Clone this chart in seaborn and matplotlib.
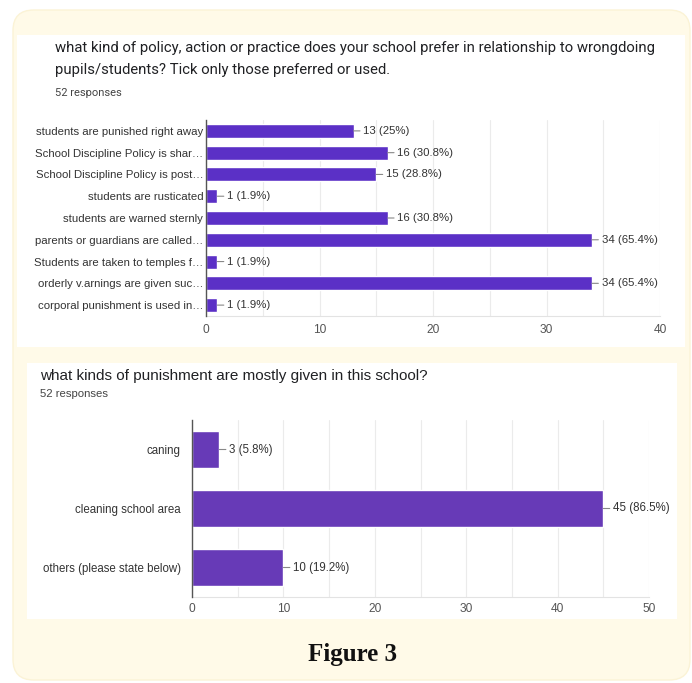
import matplotlib
matplotlib.use("Agg")
import matplotlib.pyplot as plt
import seaborn as sns
import pandas as pd
from matplotlib.patches import FancyBboxPatch, Rectangle
from matplotlib.ticker import MultipleLocator

# ---- data ----
q1_title = ("what kind of policy, action or practice does your school prefer in relationship to wrongdoing\n"
            "pupils/students? Tick only those preferred or used.")
q1_labels = ["students are punished right away",
             "School Discipline Policy is shar\u2026",
             "School Discipline Policy is post\u2026",
             "students are rusticated",
             "students are warned sternly",
             "parents or guardians are called\u2026",
             "Students are taken to temples f\u2026",
             "orderly v.arnings are given suc\u2026",
             "corporal punishment is used in\u2026"]
q1_counts = [13, 16, 15, 1, 16, 34, 1, 34, 1]
q1_pcts = ["25%", "30.8%", "28.8%", "1.9%", "30.8%", "65.4%", "1.9%", "65.4%", "1.9%"]
q1_ticks = [0, 10, 20, 30, 40]

q2_title = "what kinds of punishment are mostly given in this school?"
q2_labels = ["caning", "cleaning school area", "others (please state below)"]
q2_counts = [3, 45, 10]
q2_pcts = ["5.8%", "86.5%", "19.2%"]
q2_ticks = [0, 10, 20, 30, 40, 50]
responses = "52 responses"
caption = "Figure 3"

sns.set_style("white")
plt.rcParams["font.family"] = ["Liberation Sans", "DejaVu Sans"]

W, H = 692, 683
fig = plt.figure(figsize=(W / 100, H / 100), dpi=100)
fig.patch.set_facecolor("white")

def fx(x): return x / W
def fy(y): return 1 - y / H

# backgrounds
cream = "#FFFAE8"
fig.patches.append(FancyBboxPatch((fx(13), fy(680)), fx(677), 670 / H,
                                  boxstyle="round,pad=0,rounding_size=0.03",
                                  transform=fig.transFigure, facecolor=cream,
                                  edgecolor="#FBF3D6", lw=1, zorder=0))
fig.patches.append(Rectangle((fx(17), fy(347)), fx(668), (347 - 35) / H,
                             transform=fig.transFigure, facecolor="white",
                             edgecolor="none", zorder=1))
fig.patches.append(Rectangle((fx(27), fy(619)), fx(650), (619 - 363) / H,
                             transform=fig.transFigure, facecolor="white",
                             edgecolor="none", zorder=1))

def draw(ax, labels, counts, pcts, ticks, color, width, lsize, tsize, minor,
         ypad, xpad):
    df = pd.DataFrame({"label": labels, "count": counts})
    sns.barplot(data=df, y="label", x="count", orient="h", color=color,
                saturation=1, width=width, ax=ax, zorder=3)
    ax.set_xlim(ticks[0], ticks[-1])
    ax.set_xticks(ticks)
    ax.xaxis.set_minor_locator(MultipleLocator(minor))
    ax.grid(axis="x", which="both", color="#EBEBEB", lw=0.8, zorder=0)
    ax.grid(axis="y", visible=False)
    ax.set_xlabel("")
    ax.set_ylabel("")
    ax.set_facecolor("white")
    for s in ["top", "right"]:
        ax.spines[s].set_visible(False)
    ax.spines["bottom"].set_color("#E3E3E3")
    ax.spines["left"].set_color("#555555")
    ax.spines["left"].set_linewidth(1.0)
    ax.spines["left"].set_zorder(5)
    ax.tick_params(axis="both", which="both", length=0, colors="#444444")
    ax.tick_params(axis="y", labelsize=lsize, labelcolor="#333333", pad=ypad)
    ax.tick_params(axis="x", labelsize=tsize, labelcolor="#555555", pad=xpad)
    for i, (c, p) in enumerate(zip(counts, pcts)):
        ax.annotate(f"{c} ({p})", xy=(c, i), xytext=(7, 0),
                    textcoords="offset points", va="center", ha="left",
                    fontsize=lsize, color="#333333",
                    arrowprops=dict(arrowstyle="-", color="#888888", lw=0.8,
                                    shrinkA=0, shrinkB=0))

# top chart
ax1 = fig.add_axes([fx(206), fy(316), fx(660 - 206), (316 - 120) / H])
draw(ax1, q1_labels, q1_counts, q1_pcts, q1_ticks, "#5B30C6", 0.64, 8.2, 8.6, 5,
     2, 6)
ax1.set_zorder(3)

# bottom chart
ax2 = fig.add_axes([fx(192), fy(597), fx(649 - 192), (597 - 420) / H])
draw(ax2, q2_labels, q2_counts, q2_pcts, q2_ticks, "#673AB7", 0.62, 8.3, 8.6, 5,
     8, 4)
ax2.set_zorder(3)

# titles
fig.text(fx(55), fy(41), q1_title, fontsize=10.7, family="Roboto", color="#202124",
         va="top", ha="left", linespacing=1.75)
fig.text(fx(55), fy(88), responses, fontsize=8, family="Roboto", color="#444444",
         va="top", ha="left")
fig.text(fx(40), fy(369), q2_title, fontsize=11, family="Liberation Sans",
         color="#202124", va="top", ha="left")
fig.text(fx(40), fy(389), responses, fontsize=8.2, family="Liberation Sans",
         color="#444444", va="top", ha="left")
fig.text(fx(352), fy(655), caption, fontsize=18, family="Liberation Serif",
         weight="bold", color="#111111", va="center", ha="center")

fig.savefig("out.png", dpi=100)
